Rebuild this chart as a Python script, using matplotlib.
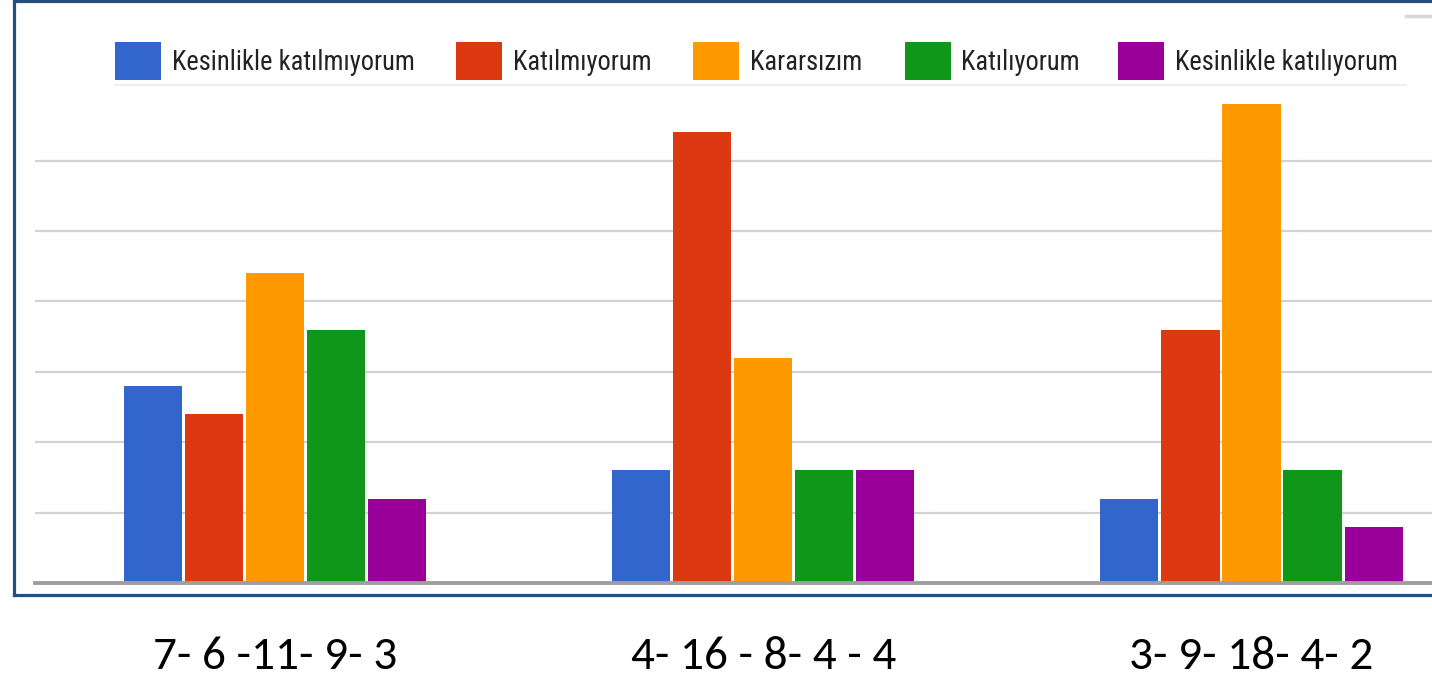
import matplotlib
matplotlib.use('Agg')
import matplotlib.pyplot as plt
from matplotlib import font_manager
from matplotlib.patches import Rectangle
from matplotlib.lines import Line2D
import numpy as np

# ---- data ----
groups = ['7- 6 -11- 9- 3', '4- 16 - 8- 4 - 4', '3- 9- 18- 4- 2']
series_names = ['Kesinlikle katılmıyorum', 'Katılmıyorum', 'Kararsızım',
                'Katılıyorum', 'Kesinlikle katılıyorum']
kesinlikle_katilmiyorum = [7, 4, 3]
katilmiyorum = [6, 16, 9]
kararsizim = [11, 8, 18]
katiliyorum = [9, 4, 4]
kesinlikle_katiliyorum = [3, 4, 2]
series_values = [kesinlikle_katilmiyorum, katilmiyorum, kararsizim,
                 katiliyorum, kesinlikle_katiliyorum]
colors = ['#3366CC', '#DC3912', '#FF9900', '#109618', '#990099']

W, H, DPI = 1432, 679, 100
fig = plt.figure(figsize=(W / DPI, H / DPI), dpi=DPI)
fig.patch.set_facecolor('white')


def fx(px):
    return px / W


def fy(py):
    return 1 - py / H


avail = {f.name for f in font_manager.fontManager.ttflist}
legend_font = next((f for f in ['Liberation Sans Narrow', 'Roboto Condensed',
                                'Roboto', 'Liberation Sans'] if f in avail), 'DejaVu Sans')
label_font = next((f for f in ['Carlito', 'Lato', 'Open Sans'] if f in avail), 'DejaVu Sans')

# ---- axes ----
ax = fig.add_axes([fx(35), fy(583), 1 - fx(35), fy(104.3) - fy(583)])
x = np.arange(len(groups))
step = 0.125
width = 0.119
for k, vals in enumerate(series_values):
    ax.bar(x + (k - 2) * step, vals, width=width, color=colors[k], zorder=3,
           label=series_names[k])

ax.set_xlim(-0.4916, 2.3697)
ax.set_ylim(0, 17)
ax.set_yticks([2.5, 5, 7.5, 10, 12.5, 15])
ax.grid(axis='y', color='#d2d2d2', lw=1.6)
ax.set_axisbelow(True)
ax.tick_params(axis='y', length=0, labelleft=False)
for s in ax.spines.values():
    s.set_visible(False)
ax.axhline(0, color='#9e9e9e', lw=2.8, clip_on=False, zorder=4)

ax.set_xticks(x)
ax.set_xticklabels(groups, fontfamily=label_font, fontsize=34, color='black')
ax.tick_params(axis='x', length=0, pad=38)

# ---- legend (manual, like the original) ----
sw_left = [115, 456, 693, 905, 1118]
txt_left = [172, 513, 750, 961, 1175]
for k in range(len(series_names)):
    fig.patches.append(Rectangle((fx(sw_left[k]), fy(80)), fx(46), fy(42) - fy(80),
                                 transform=fig.transFigure, facecolor=colors[k],
                                 edgecolor='none'))
texts = []
for k in range(len(series_names)):
    t = fig.text(fx(txt_left[k]), fy(62), series_names[k], fontfamily=legend_font,
                 fontsize=20, color='#222222', va='center', ha='left')
    texts.append(t)
renderer = fig.canvas.get_renderer()
wpx = texts[0].get_window_extent(renderer).width
fs = 20 * 243 / wpx
for t in texts:
    t.set_fontsize(fs)

# faint legend underline and top-right artifact
fig.lines.append(Line2D([fx(115), fx(1406)], [fy(84.5), fy(84.5)],
                        transform=fig.transFigure, color='#ebebeb', lw=1.2))
fig.lines.append(Line2D([fx(1406), fx(1432)], [fy(16), fy(16)],
                        transform=fig.transFigure, color='#d8d8d8', lw=2.5))

# ---- dark blue frame ----
frame_c = '#24507d'
fig.lines.append(Line2D([fx(13.5), fx(13.5)], [fy(0), fy(595)],
                        transform=fig.transFigure, color=frame_c, lw=2.3))
fig.lines.append(Line2D([fx(13.5), fx(1440)], [fy(594.5), fy(594.5)],
                        transform=fig.transFigure, color=frame_c, lw=2.3))
fig.lines.append(Line2D([fx(13.5), fx(1440)], [fy(0.8), fy(0.8)],
                        transform=fig.transFigure, color=frame_c, lw=2.3))

fig.savefig('out.png', dpi=DPI)
